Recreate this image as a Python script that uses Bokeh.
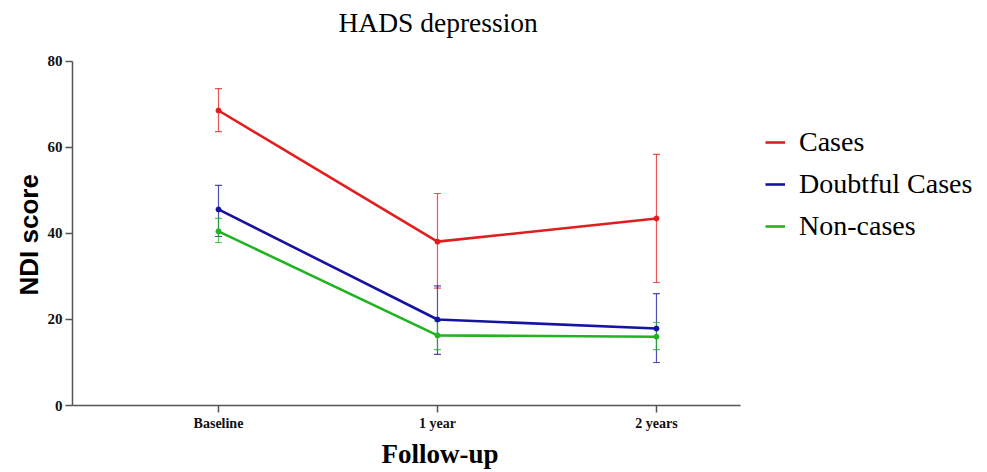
from bokeh.plotting import figure
from bokeh.models import (Range1d, Whisker, TeeHead, ColumnDataSource, FixedTicker,
                          LinearAxis, Label, Title)
from bokeh.embed import file_html
from bokeh.resources import INLINE

# ---- data ----
categories = ["Baseline", "1 year", "2 years"]
xpos = [1, 2, 3]
cases = [68.6, 38.1, 43.5]
cases_lo = [63.7, 27.3, 28.6]
cases_hi = [73.7, 49.3, 58.4]
doubtful = [45.6, 20.0, 17.9]
doubtful_lo = [39.3, 11.9, 10.0]
doubtful_hi = [51.2, 27.8, 26.0]
noncases = [40.5, 16.3, 16.0]
noncases_lo = [37.9, 13.0, 13.0]
noncases_hi = [43.5, 19.6, 19.3]
y_ticks = [0, 20, 40, 60, 80]

series = [
    ("Cases", cases, cases_lo, cases_hi, "#e01e1e"),
    ("Doubtful Cases", doubtful, doubtful_lo, doubtful_hi, "#1414a0"),
    ("Non-cases", noncases, noncases_lo, noncases_hi, "#22b322"),
]

X_LO, X_HI = 1/3, 3.384   # visible extent of the x axis
Y_LO, Y_HI = 0, 80

p = figure(width=987, height=472, output_backend="svg", toolbar_location=None,
           x_range=Range1d(X_LO, 4.466), y_range=Range1d(0, 93.02),
           min_border_left=72, min_border_right=10, min_border_top=5,
           min_border_bottom=67, x_axis_location=None, y_axis_location=None)
p.background_fill_color = "white"
p.border_fill_color = "white"
p.outline_line_color = None
p.xgrid.visible = False
p.ygrid.visible = False

for name, vals, lo, hi, col in series:
    src = ColumnDataSource(dict(x=xpos, y=vals, lo=lo, hi=hi))
    w = Whisker(base="x", upper="hi", lower="lo", source=src,
                line_color=col, line_width=1.2, line_alpha=0.75,
                upper_head=TeeHead(size=7, line_color=col, line_width=1.2, line_alpha=0.75),
                lower_head=TeeHead(size=7, line_color=col, line_width=1.2, line_alpha=0.75))
    p.add_layout(w)
for name, vals, lo, hi, col in series:
    src = ColumnDataSource(dict(x=xpos, y=vals))
    p.line("x", "y", source=src, line_color=col, line_width=2.6, legend_label=name)
    p.scatter("x", "y", source=src, size=5, fill_color=col, line_color=col)

xaxis = LinearAxis(bounds=(X_LO, X_HI), ticker=FixedTicker(ticks=xpos))
yaxis = LinearAxis(bounds=(Y_LO, Y_HI), ticker=FixedTicker(ticks=y_ticks))
for ax in (xaxis, yaxis):
    ax.axis_line_color = "#555555"
    ax.axis_line_width = 1.5
    ax.major_tick_line_color = "#555555"
    ax.major_tick_line_width = 1.5
    ax.major_tick_out = 7
    ax.major_tick_in = 0
    ax.minor_tick_line_color = None
    ax.major_label_text_font = "Liberation Serif"
    ax.major_label_text_font_style = "bold"
    ax.major_label_text_color = "#111111"

xaxis.major_label_overrides = {x: c for x, c in zip(xpos, categories)}
xaxis.major_label_text_font_size = "14px"
xaxis.major_label_standoff = 3
yaxis.major_label_text_font_size = "15px"
yaxis.major_label_standoff = 3

p.add_layout(xaxis, "below")
p.add_layout(yaxis, "left")

xlabel = Title(text="Follow-up", align="left", offset=309, standoff=6,
               text_font="Liberation Serif", text_font_style="bold",
               text_font_size="27px", text_color="black")
p.add_layout(xlabel, "below")
ylabel = Title(text="NDI score", align="left", offset=110, standoff=2,
               text_font="Liberation Sans", text_font_style="bold",
               text_font_size="26px", text_color="black")
p.add_layout(ylabel, "left")

title = Label(x=266, y=383, x_units="screen", y_units="screen", text="HADS depression",
              text_font="Liberation Serif", text_font_size="27.5px", text_color="black",
              text_align="left", text_baseline="middle")
p.add_layout(title)

lg = p.legend[0]
lg.location = (693, 163)
lg.padding = 0
lg.margin = 0
lg.spacing = 10
lg.glyph_width = 20
lg.glyph_height = 32
lg.label_height = 32
lg.label_standoff = 14
lg.label_text_font = "Liberation Serif"
lg.label_text_font_size = "28px"
lg.label_text_color = "black"
lg.border_line_alpha = 0
lg.background_fill_alpha = 0

open("out.html", "w").write(file_html(p, INLINE))
